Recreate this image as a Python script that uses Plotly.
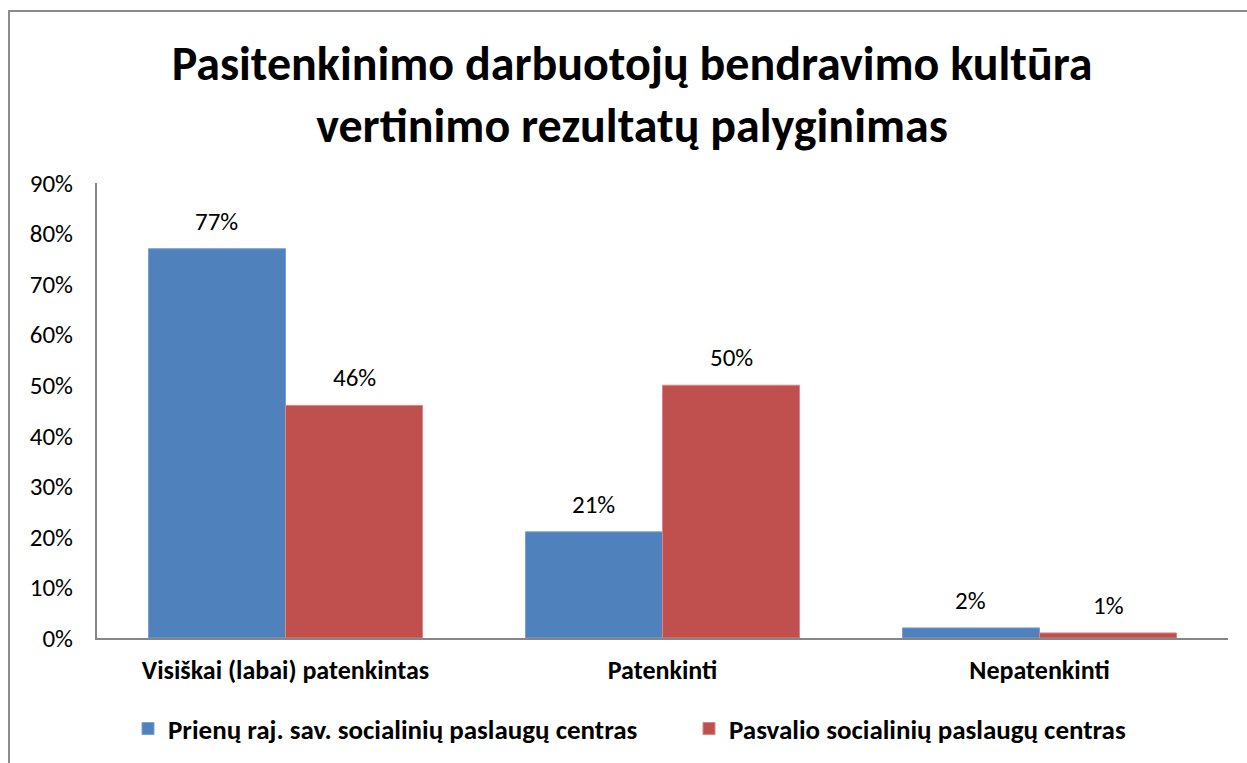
import plotly.graph_objects as go

# Survey results: share of respondents per satisfaction level
categories = ["Visiškai (labai) patenkintas", "Patenkinti", "Nepatenkinti"]
series_names = ["Prienų raj. sav. socialinių paslaugų centras",
                "Pasvalio socialinių paslaugų centras"]
prienai_values = [77, 21, 2]
pasvalys_values = [46, 50, 1]
tick_values = [0, 10, 20, 30, 40, 50, 60, 70, 80, 90]
tick_labels = [f"{v}%" for v in tick_values]

colors = ["#4F81BD", "#C0504D"]
edge_colors = ["#7A9FCF", "#D88583"]
FONT = "Carlito, Calibri, Lato, sans-serif"

W, H = 1247, 763
L, R, T, B = 97, 19, 183, 125
pw, ph = W - L - R, H - T - B


def px_x(px):
    return (px - L) / pw


def px_y(py):
    return (H - B - py) / ph


fig = go.Figure()
all_values = [prienai_values, pasvalys_values]
legend_ids = ["legend", "legend2"]
for name, vals, col, ecol, lg in zip(series_names, all_values, colors, edge_colors, legend_ids):
    fig.add_trace(go.Bar(
        x=categories, y=vals, name=name, legend=lg,
        marker=dict(color=col, line=dict(color=ecol, width=1)),
    ))

# value labels above each bar
bar_px = pw / 3 * (1 - 0.273) / 2
for i, vals in enumerate(all_values):
    shift = (i - 0.5) * bar_px
    for cat, v in zip(categories, vals):
        fig.add_annotation(
            x=cat, y=v, text=f"{v}%", showarrow=False,
            xshift=shift, yshift=10, yanchor="bottom",
            font=dict(family=FONT, size=25, color="#000000"),
        )

# outer chart frame
fig.add_shape(type="rect", xref="paper", yref="paper",
              x0=px_x(9), x1=px_x(1270), y0=px_y(790), y1=px_y(11),
              line=dict(color="#8C8C8C", width=2), fillcolor="rgba(0,0,0,0)")

legend_font = dict(family=FONT, size=27, color="#000000", weight="bold")
fig.update_layout(
    width=W, height=H,
    margin=dict(l=L, r=R, t=T, b=B, autoexpand=False),
    paper_bgcolor="white", plot_bgcolor="white",
    barmode="group", bargap=0.273, bargroupgap=0,
    title=dict(
        text="Pasitenkinimo darbuotojų bendravimo kultūra<br>vertinimo rezultatų palyginimas",
        x=632 / W, xanchor="center", y=1 - 79.5 / H, yanchor="middle",
        font=dict(family=FONT, size=48, color="#000000", weight="bold"),
    ),
    xaxis=dict(
        showline=True, linecolor="#868686", linewidth=2, automargin=False,
        ticks="", tickfont=dict(family=FONT, size=26, color="#000000", weight="bold"),
        ticklabelstandoff=8,
    ),
    yaxis=dict(
        range=[0, 90], tickvals=tick_values, ticktext=tick_labels,
        showline=True, linecolor="#868686", linewidth=2, automargin=False,
        showgrid=False, zeroline=False, ticks="",
        tickfont=dict(family=FONT, size=25, color="#000000"),
        ticklabelstandoff=17,
    ),
    legend=dict(
        orientation="h", x=px_x(128), xanchor="left",
        y=px_y(729), yanchor="middle", bgcolor="rgba(0,0,0,0)",
        font=legend_font, itemwidth=30,
    ),
    legend2=dict(
        orientation="h", x=px_x(689), xanchor="left",
        y=px_y(729), yanchor="middle", bgcolor="rgba(0,0,0,0)",
        font=legend_font, itemwidth=30,
    ),
    showlegend=True,
)

fig.write_html("out.html")
